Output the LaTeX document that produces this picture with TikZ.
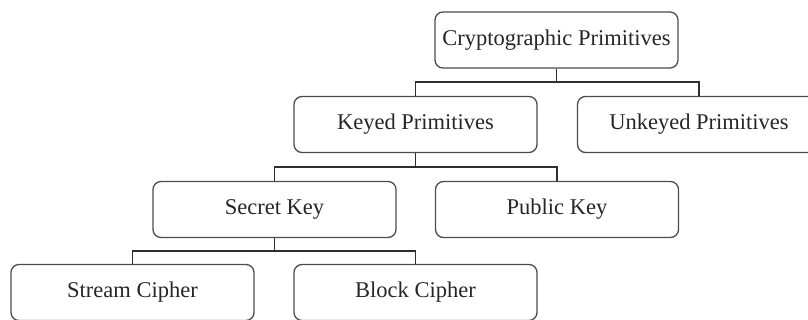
\documentclass[tikz,border=0pt]{standalone}
\usepackage{fontspec}
\setmainfont{Liberation Serif}
\definecolor{boxgray}{rgb}{0.30,0.30,0.30}
\definecolor{linegray}{rgb}{0.18,0.18,0.18}
\begin{document}
\begin{tikzpicture}[x=1pt,y=-1pt,
  box/.style={draw=boxgray, line width=1.3pt, rounded corners=8pt,
    minimum width=243pt, minimum height=56pt, inner sep=0pt,
    font=\fontsize{22.5}{24}\selectfont, text=black!85},
  conn/.style={draw=linegray, line width=1.3pt}]
\useasboundingbox (0,0) rectangle (808,320);
\clip (0,0) rectangle (808,320);
\node[box] (crypto)  at (556.5,40)   {Cryptographic Primitives};
\node[box] (keyed)   at (415.5,124.5) {Keyed Primitives};
\node[box] (unkeyed) at (699,124.5)  {Unkeyed Primitives};
\node[box] (secret)  at (274.5,209.5) {Secret Key};
\node[box] (public)  at (557,209.5)  {Public Key};
\node[box] (stream)  at (132.5,292.5) {Stream Cipher};
\node[box] (block)   at (415.5,292.5) {Block Cipher};
\coordinate (j1) at (556.5,82);
\coordinate (j2) at (415.5,167);
\coordinate (j3) at (274.5,251);
\draw[conn] (crypto.south) -- (j1);
\draw[conn] (keyed.north) |- (j1) -| (unkeyed.north);
\draw[conn] (keyed.south) -- (j2);
\draw[conn] (secret.north) |- (j2) -| (public.north);
\draw[conn] (secret.south) -- (j3);
\draw[conn] (stream.north) |- (j3) -| (block.north);
\end{tikzpicture}
\end{document}
